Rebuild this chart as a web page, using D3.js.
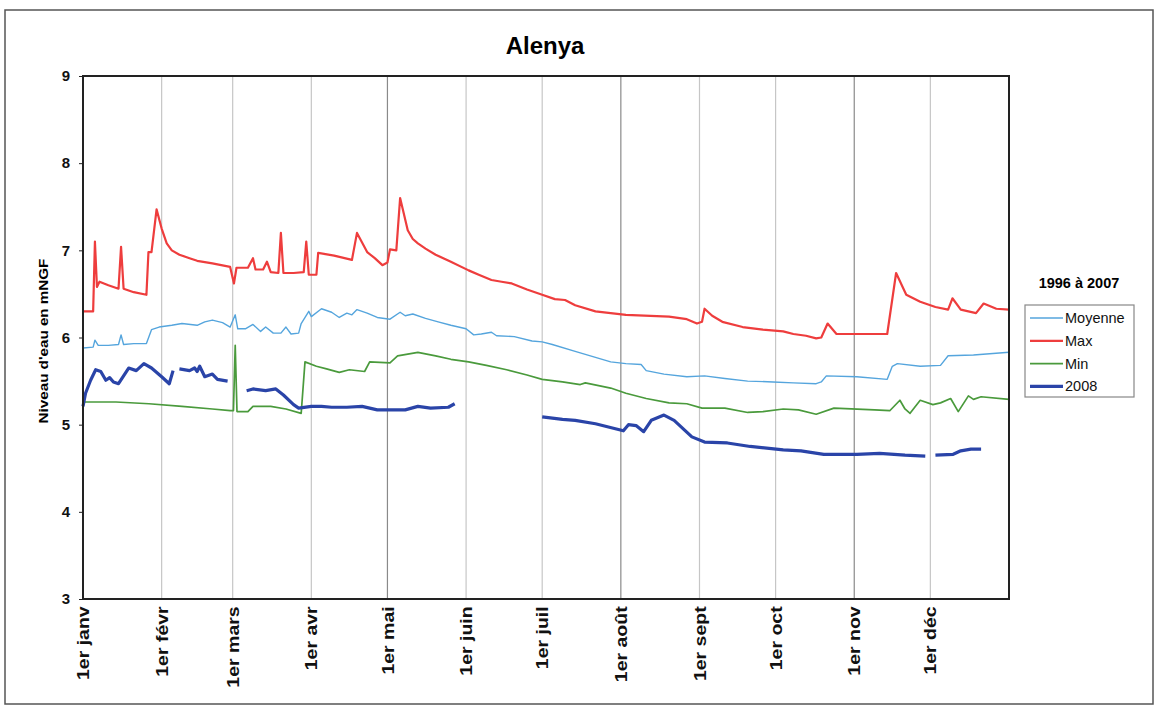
<!DOCTYPE html>
<html><head><meta charset="utf-8">
<script src="https://cdn.jsdelivr.net/npm/d3@7"></script>
<style>body{margin:0;background:#fff;}svg{display:block;font-family:"Liberation Sans",Arial,sans-serif;}</style>
</head><body>
<svg id="c" width="1160" height="709"></svg>
<script>
const title = "Alenya";
const yLabel = "Niveau d'eau en mNGF";
const legendTitle = "1996 à 2007";
const monthLabels = ["1er janv","1er févr","1er mars","1er avr","1er mai","1er juin","1er juil","1er août","1er sept","1er oct","1er nov","1er déc"];
const monthStarts = [0,31,59,90,120,151,181,212,243,273,304,334];
const yTicks = [3,4,5,6,7,8,9];
const seriesNames = ["Moyenne","Max","Min","2008"];

const maxData = [[0,6.30],[4,6.30],[4.7,7.10],[5.5,6.58],[6.5,6.64],[10,6.60],[14,6.56],[15,7.04],[16,6.56],[20,6.52],[25,6.49],[25.8,6.98],[27,6.98],[29,7.47],[31,7.25],[33,7.08],[35,7.0],[38,6.95],[42,6.91],[45,6.88],[51,6.85],[58,6.81],[59.5,6.62],[60.5,6.80],[65,6.80],[67,6.91],[68,6.78],[71,6.78],[72.5,6.87],[74,6.75],[77,6.74],[78,7.20],[79,6.74],[83,6.74],[87,6.75],[88,7.10],[89,6.72],[92,6.72],[92.7,6.97],[99,6.94],[106,6.89],[108,7.20],[112,6.98],[115,6.91],[118,6.83],[120,6.86],[121,7.01],[123.5,7.00],[125,7.60],[128,7.23],[130,7.13],[132,7.08],[135,7.02],[139,6.95],[145,6.87],[152,6.77],[156,6.72],[161,6.66],[165,6.64],[169,6.62],[175,6.55],[181,6.49],[186,6.44],[190,6.43],[194,6.37],[202,6.30],[214,6.26],[231,6.24],[238,6.21],[242,6.16],[244,6.18],[245,6.33],[248,6.25],[252,6.18],[260,6.12],[268,6.09],[276,6.07],[280,6.04],[285,6.02],[289,5.99],[291,6.00],[293.5,6.16],[297,6.04],[305,6.04],[317,6.04],[320.5,6.74],[324.5,6.49],[330,6.41],[336,6.35],[341,6.32],[342.7,6.45],[346,6.32],[352,6.28],[355,6.39],[360,6.33],[365,6.32]];

const moyData = [[0,5.88],[4,5.89],[4.7,5.97],[6,5.91],[10,5.91],[14,5.92],[15,6.03],[16,5.92],[20,5.93],[25,5.93],[27,6.09],[30,6.12],[35,6.14],[39,6.16],[45,6.14],[48,6.18],[51,6.20],[55,6.17],[58,6.12],[60,6.26],[61,6.10],[64,6.10],[67,6.15],[70,6.07],[72,6.12],[75,6.05],[78,6.05],[80,6.12],[82,6.04],[85,6.05],[86,6.16],[89,6.30],[90,6.24],[94,6.33],[98,6.29],[101,6.23],[104,6.28],[106,6.26],[108,6.32],[112,6.28],[116,6.23],[121,6.21],[125,6.29],[127,6.25],[130,6.27],[135,6.22],[140,6.18],[145,6.14],[151,6.10],[154,6.03],[157,6.04],[161,6.06],[163,6.02],[170,6.01],[177,5.96],[181,5.95],[185,5.92],[194,5.84],[208,5.72],[214,5.70],[220,5.69],[222,5.62],[229,5.58],[238,5.55],[245,5.56],[253,5.53],[262,5.50],[272,5.49],[280,5.48],[289,5.47],[291,5.49],[293,5.56],[305,5.55],[317,5.52],[319,5.67],[321,5.70],[330,5.67],[338,5.68],[341,5.79],[351,5.80],[365,5.83]];

const minData = [[0,5.26],[13,5.26],[26,5.24],[39,5.21],[51,5.18],[58,5.16],[59.3,5.16],[60,5.91],[60.7,5.15],[65,5.15],[67,5.21],[74,5.21],[80,5.18],[86,5.13],[87.5,5.72],[92,5.67],[96,5.64],[101,5.60],[105,5.63],[111,5.61],[113,5.72],[121,5.71],[124,5.79],[132,5.83],[139,5.79],[145,5.75],[152,5.72],[159,5.68],[167,5.63],[175,5.57],[181,5.52],[189,5.49],[196,5.46],[198,5.48],[208,5.42],[214,5.36],[222,5.30],[231,5.25],[238,5.24],[244,5.19],[253,5.19],[262,5.14],[268,5.15],[276,5.18],[282,5.17],[289,5.12],[296,5.19],[312,5.17],[318,5.16],[322,5.28],[324,5.18],[326,5.13],[330,5.28],[335,5.23],[338,5.25],[342,5.30],[345,5.15],[349,5.33],[351,5.29],[354,5.32],[365,5.29]];

const y2008Data = [[0,5.21],[1,5.36],[3,5.51],[5,5.63],[7,5.61],[9,5.51],[10.5,5.54],[12,5.49],[14,5.47],[18,5.65],[21,5.62],[24,5.70],[27,5.65],[31,5.55],[34,5.47],[35.5,5.62],[36.5,null],[38,5.64],[42,5.62],[44,5.65],[45,5.61],[46,5.67],[48,5.55],[51,5.58],[53,5.52],[57,5.50],[60,null],[64.5,5.39],[67,5.41],[72,5.39],[76,5.41],[79,5.34],[83,5.23],[85,5.19],[90,5.21],[94,5.21],[98,5.20],[104,5.20],[110,5.21],[116,5.17],[127,5.17],[132,5.21],[137,5.19],[144,5.20],[146.5,5.24],[160,null],[181,5.09],[189,5.06],[194,5.05],[202,5.01],[213,4.93],[215,5.00],[218,4.99],[221,4.92],[224,5.05],[229,5.11],[233,5.05],[240,4.86],[245,4.80],[254,4.79],[263,4.75],[276,4.71],[283,4.70],[292,4.66],[305,4.66],[314,4.67],[324,4.65],[332,4.64],[334,null],[336,4.65],[343,4.66],[346,4.70],[350,4.72],[354,4.72]];

const colors = {"Moyenne":"#55a5dd","Max":"#ee3d3d","Min":"#4a9a3c","2008":"#2a44a8"};
const widths = {"Moyenne":1.4,"Max":2.2,"Min":1.7,"2008":3.2};
const dataBy = {"Moyenne":moyData,"Max":maxData,"Min":minData,"2008":y2008Data};
const darkGrid = [120,212,304];

const svg = d3.select("#c");
const m = {left:83, right:1009, top:76, bottom:599};
const x = d3.scaleLinear().domain([0,365]).range([m.left,m.right]);
const y = d3.scaleLinear().domain([3,9]).range([m.bottom,m.top]);

// outer frame
svg.append("rect").attr("x",5).attr("y",10).attr("width",1148).attr("height",694)
  .attr("fill","#fff").attr("stroke","#555").attr("stroke-width",1.5);

// title
svg.append("text").attr("x",545).attr("y",54).attr("text-anchor","middle")
  .attr("font-size",24).attr("font-weight","bold").text(title);

// vertical gridlines
svg.append("g").selectAll("line").data(monthStarts.slice(1)).join("line")
  .attr("x1",d=>x(d)).attr("x2",d=>x(d)).attr("y1",m.top).attr("y2",m.bottom)
  .attr("stroke",d=>darkGrid.includes(d)?"#8a8a8a":"#c6c6c6").attr("stroke-width",1.2);

// series
const line = d3.line().defined(d=>d[1]!==null).x(d=>x(d[0])).y(d=>y(d[1]));
["Max","Moyenne","Min","2008"].forEach(n=>{
  svg.append("path").datum(dataBy[n]).attr("d",line).attr("fill","none")
    .attr("stroke",colors[n]).attr("stroke-width",widths[n]).attr("stroke-linejoin","round");
});

// plot border
svg.append("rect").attr("x",m.left).attr("y",m.top).attr("width",m.right-m.left).attr("height",m.bottom-m.top)
  .attr("fill","none").attr("stroke","#222").attr("stroke-width",2);

// y axis
const ya = svg.append("g").attr("transform",`translate(${m.left},0)`)
  .call(d3.axisLeft(y).tickValues(yTicks).tickSize(4).tickPadding(9).tickFormat(d3.format("d")));
ya.select(".domain").remove();
ya.selectAll("line").attr("stroke","#222");
ya.selectAll("text").attr("font-size",15).attr("font-weight","bold").attr("fill","#111")
  .attr("font-family","Liberation Sans, Arial, sans-serif");

// x axis labels
const xa = svg.append("g").attr("transform",`translate(0,${m.bottom})`)
  .call(d3.axisBottom(x).tickValues(monthStarts).tickSize(0).tickFormat((d,i)=>monthLabels[i]));
xa.select(".domain").remove();
xa.selectAll(".tick text").attr("font-size",16).attr("font-weight","bold").attr("fill","#111")
  .attr("font-family","Liberation Sans, Arial, sans-serif")
  .attr("text-anchor","end").attr("transform","rotate(-90) scale(1.22,1)")
  .attr("x",-6).attr("y",0).attr("dy","0.35em");

// y label
svg.append("text").attr("transform","translate(48,341) rotate(-90) scale(1.17,1)").attr("text-anchor","middle")
  .attr("font-size",13).attr("font-weight","bold").text(yLabel);

// legend
svg.append("text").attr("x",1079).attr("y",288).attr("text-anchor","middle")
  .attr("font-size",14.5).attr("font-weight","bold").text(legendTitle);
svg.append("rect").attr("x",1025).attr("y",305).attr("width",109).attr("height",92)
  .attr("fill","#fff").attr("stroke","#888").attr("stroke-width",1.2);
const lg = svg.append("g").selectAll("g").data(seriesNames).join("g")
  .attr("transform",(d,i)=>`translate(1030,${318+i*22.8})`);
lg.append("line").attr("x1",0).attr("x2",33).attr("stroke",d=>colors[d]).attr("stroke-width",d=>widths[d]);
lg.append("text").attr("x",35).attr("dy","0.35em").attr("font-size",14.5).attr("fill","#111").text(d=>d);
</script>
</body></html>
